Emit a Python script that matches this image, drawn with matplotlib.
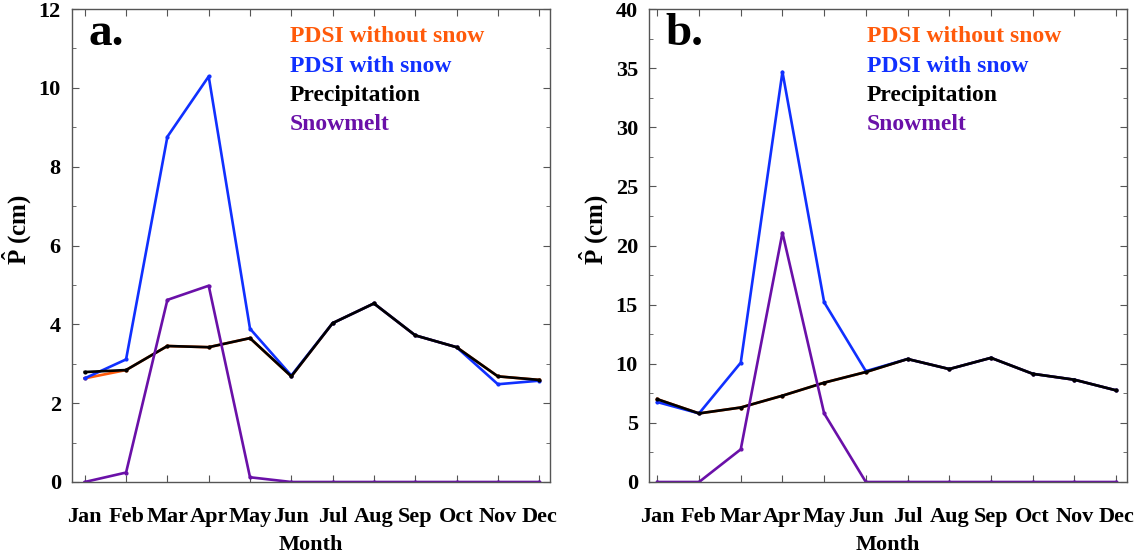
import numpy as np
import matplotlib
matplotlib.use("Agg")
import matplotlib.pyplot as plt
from matplotlib.ticker import MultipleLocator

plt.rcParams['font.family'] = 'Liberation Serif'
plt.rcParams['font.weight'] = 'bold'
plt.rcParams['mathtext.fontset'] = 'custom'
plt.rcParams['mathtext.rm'] = 'Liberation Serif:bold'
plt.rcParams['mathtext.bf'] = 'Liberation Serif:bold'

months = ['Jan', 'Feb', 'Mar', 'Apr', 'May', 'Jun', 'Jul', 'Aug', 'Sep', 'Oct', 'Nov', 'Dec']

# panel a
a_nosnow = [2.63, 2.84, 3.45, 3.42, 3.65, 2.68, 4.03, 4.53, 3.72, 3.42, 2.68, 2.59]
a_snow = [2.63, 3.11, 8.76, 10.29, 3.89, 2.70, 4.03, 4.53, 3.72, 3.42, 2.48, 2.57]
a_precip = [2.79, 2.84, 3.45, 3.42, 3.65, 2.68, 4.03, 4.53, 3.72, 3.42, 2.68, 2.59]
a_melt = [0.0, 0.24, 4.62, 4.98, 0.12, 0.0, 0.0, 0.0, 0.0, 0.0, 0.0, 0.0]

# panel b
b_nosnow = [7.0, 5.8, 6.3, 7.3, 8.4, 9.3, 10.4, 9.55, 10.5, 9.15, 8.65, 7.75]
b_snow = [6.76, 5.8, 10.09, 34.68, 15.2, 9.37, 10.4, 9.55, 10.5, 9.15, 8.65, 7.75]
b_precip = [7.0, 5.8, 6.3, 7.3, 8.4, 9.3, 10.4, 9.55, 10.5, 9.15, 8.65, 7.75]
b_melt = [0.0, 0.0, 2.76, 21.08, 5.8, 0.0, 0.0, 0.0, 0.0, 0.0, 0.0, 0.0]

c_orange = '#ff5a0a'
c_blue = '#1030ff'
c_black = '#000000'
c_purple = '#6a10a8'

fig = plt.figure(figsize=(11.44, 5.56), dpi=100)
ax_a = fig.add_axes([0.0629, 0.1331, 0.4178, 0.8507])
ax_b = fig.add_axes([0.5673, 0.1331, 0.4178, 0.8507])

x = np.arange(1, 13)


def draw(ax, nosnow, snow, precip, melt, ymax, step, letter, xlo):
    for vals, col in [(nosnow, c_orange), (snow, c_blue), (precip, c_black), (melt, c_purple)]:
        ax.plot(x, vals, color=col, lw=1.9, marker='.', ms=4)
    ax.set_xlim(xlo, 12.26)
    ax.set_ylim(0, ymax)
    ax.set_xticks(x)
    ax.set_xticklabels(months)
    ax.yaxis.set_major_locator(MultipleLocator(step))
    ax.yaxis.set_minor_locator(MultipleLocator(step / 2))
    ax.tick_params(which='both', direction='in', top=True, right=True,
                   labelsize=16, color='#555555', pad=8)
    ax.tick_params(axis='x', pad=18)
    ax.tick_params(which='major', length=5)
    ax.tick_params(which='minor', length=3)
    for s in ax.spines.values():
        s.set_color('#555555')
        s.set_linewidth(1.0)
    ax.set_xlabel('Month', fontsize=16, fontweight='bold', labelpad=6)
    ax.set_ylabel(r'$\hat{\mathbf{P}}$ (cm)', fontsize=18, fontweight='bold')
    ax.yaxis.set_label_coords(-0.082, 0.533)
    ax.text(0.035, 0.924, letter, transform=ax.transAxes, fontsize=34,
            fontweight='bold', va='baseline')
    names = ['PDSI without snow', 'PDSI with snow', 'Precipitation', 'Snowmelt']
    cols = [c_orange, c_blue, c_black, c_purple]
    for i, (n, c) in enumerate(zip(names, cols)):
        ax.text(0.456, 0.941 - i * 0.0615, n, transform=ax.transAxes, color=c,
                fontsize=17, fontweight='bold', va='center')


draw(ax_a, a_nosnow, a_snow, a_precip, a_melt, 12, 2, 'a.', 0.69)
draw(ax_b, b_nosnow, b_snow, b_precip, b_melt, 40, 5, 'b.', 0.80)

fig.savefig('out.png', dpi=100)
